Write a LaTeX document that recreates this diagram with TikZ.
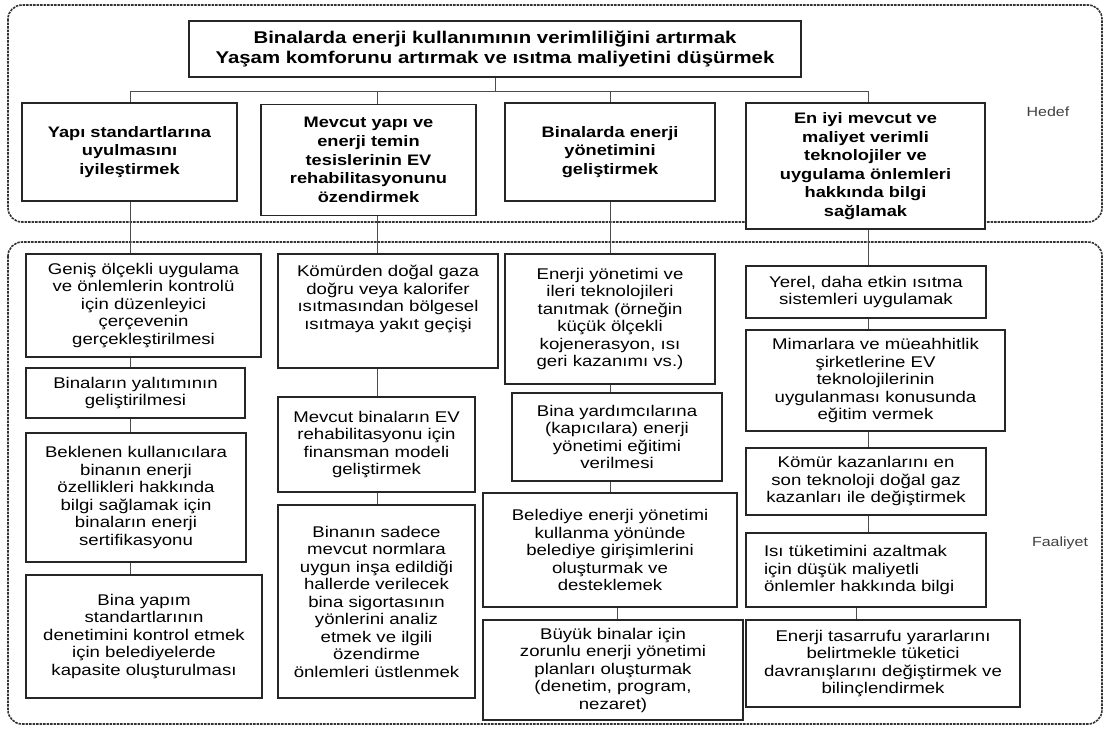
\documentclass[tikz,border=0pt]{standalone}
\usepackage{fontspec}
\setmainfont[FakeStretch=1.2]{Liberation Sans}

\begin{document}
\begin{tikzpicture}[x=1pt, y=-1pt,
        actbox/.style 2 args={draw=black!85, line width=1.3pt, fill=white, align=center,
            inner sep=1pt, minimum width=#1, minimum height=#2,
            font=\fontsize{15.5}{17.5}\selectfont},
        goalbox/.style 2 args={actbox={#1}{#2}, font=\bfseries\fontsize{15.2}{18.6}\selectfont},
        headbox/.style 2 args={actbox={#1}{#2}, font=\bfseries\fontsize{17}{20}\selectfont},
        region/.style={draw=black!80, line width=1.6pt, dash pattern=on 2.5pt off 1pt,
            rounded corners=14pt},
        conn/.style={draw=black!70, line width=1pt},
        lbl/.style={text=black!75, font=\fontsize{13.3}{15}\selectfont}]
            \useasboundingbox (0,0) rectangle (1105,729);

            \draw[region] (8,5) rectangle (1102,222);
            \draw[region] (8,242) rectangle (1102,724);

            \coordinate (b) at (0,91);
            \coordinate (c1) at (130,0);
            \coordinate (c2) at (377,0);
            \coordinate (c3) at (610,0);
            \coordinate (c3b) at (617,0);
            \coordinate (c4) at (868,0);
            \coordinate (c4b) at (856,0);

            \node[headbox={612}{56}] at (495, 49) (main)
                {Binalarda enerji kullanımının verimliliğini artırmak\\Yaşam komforunu artırmak ve ısıtma maliyetini düşürmek};

            \node[goalbox={215}{98}] at (129.5, 152) (yapi) {Yapı standartlarına\\uyulmasını\\iyileştirmek};
            \node[goalbox={215}{111}] at (368.5, 160) (rehab) {Mevcut yapı ve\\enerji temin\\tesislerinin EV\\rehabilitasyonunu\\özendirmek};
            \node[goalbox={210}{98}] at (610, 152) (ynt) {Binalarda enerji\\yönetimini\\geliştirmek};
            \node[goalbox={239}{126}] at (865.5, 166) (tekno) {En iyi mevcut ve\\maliyet verimli\\teknolojiler ve\\uygulama önlemleri\\hakkında bilgi\\sağlamak};

            \node[lbl] at (1048, 112) (hedef) {Hedef};
            \node[lbl] at (1060, 543) (faaliyet) {Faaliyet};

            \node[actbox={235}{103}] at (143.5, 305.5) (yapi1) {Geniş ölçekli uygulama\\ve önlemlerin kontrolü\\için düzenleyici\\çerçevenin\\gerçekleştirilmesi};
            \node[actbox={219}{50}] at (135.5, 393) (yapi2) {Binaların yalıtımının\\geliştirilmesi};
            \node[actbox={220}{129}] at (136, 497.5) (yapi3) {Beklenen kullanıcılara\\binanın enerji\\özellikleri hakkında\\bilgi sağlamak için\\binaların enerji\\sertifikasyonu};
            \node[actbox={236}{123}] at (144, 636.5) (yapi4) {Bina yapım\\standartlarının\\denetimini kontrol etmek\\için belediyelerde\\kapasite oluşturulması};

            \node[actbox={220}{114}] at (388, 311) (rehab1) {Kömürden doğal gaza\\doğru veya kalorifer\\ısıtmasından bölgesel\\ısıtmaya yakıt geçişi\\[10pt]\mbox{}};
            \node[actbox={197}{95}] at (376.5, 444.5) (rehab2) {Mevcut binaların EV\\rehabilitasyonu için\\finansman modeli\\geliştirmek};
            \node[actbox={197}{193}] at (376.5, 601.5) (rehab3) {Binanın sadece\\mevcut normlara\\uygun inşa edildiği\\hallerde verilecek\\bina sigortasının\\yönlerini analiz\\etmek ve ilgili\\özendirme\\önlemleri üstlenmek};

            \node[actbox={210}{130}] at (610, 319) (ynt1) {Enerji yönetimi ve\\ileri teknolojileri\\tanıtmak (örneğin\\küçük ölçekli\\kojenerasyon, ısı\\geri kazanımı vs.)};
            \node[actbox={210}{88}] at (617, 437) (ynt2) {Bina yardımcılarına\\(kapıcılara) enerji\\yönetimi eğitimi\\verilmesi};
            \node[actbox={254}{114}] at (610, 550) (ynt3) {Belediye enerji yönetimi\\kullanma yönünde\\belediye girişimlerini\\oluşturmak ve\\desteklemek};
            \node[actbox={260}{100}] at (613, 670) (ynt4) {Büyük binalar için\\zorunlu enerji yönetimi\\planları oluşturmak\\(denetim, program,\\nezaret)};

            \node[actbox={240}{52}] at (866, 292) (tekno1) {Yerel, daha etkin ısıtma\\sistemleri uygulamak};
            \node[actbox={259}{101}] at (875.5, 380.5) (tekno2) {Mimarlara ve müeahhitlik\\şirketlerine EV\\teknolojilerinin\\uygulanması konusunda\\eğitim vermek};
            \node[actbox={240}{67}] at (866, 481.5) (tekno3) {Kömür kazanlarını en\\son teknoloji doğal gaz\\kazanları ile değiştirmek};
            \node[actbox={240}{74}, align=left, text width=204, inner xsep=18pt] at (866, 570) (tekno4) {Isı tüketimini azaltmak\\için düşük maliyetli\\önlemler hakkında bilgi};
            \node[actbox={274}{87}] at (883, 663.5) (tekno5) {Enerji tasarrufu yararlarını\\belirtmekle tüketici\\davranışlarını değiştirmek ve\\bilinçlendirmek};

            \draw[conn] (main.south) -- (main.south |- b);
            \draw[conn] (b -| c1) -- (b -| c4);
            \draw[conn] (b -| c1) -- (yapi.north -| c1);
            \draw[conn] (b -| c2) -- (rehab.north -| c2);
            \draw[conn] (b -| c3) -- (ynt.north -| c3);
            \draw[conn] (b -| c4) -- (tekno.north -| c4);

            \draw[conn] (yapi.south -| c1) -- (yapi1.north -| c1);
            \draw[conn] (yapi1.south -| c1) -- (yapi2.north -| c1);
            \draw[conn] (yapi2.south -| c1) -- (yapi3.north -| c1);
            \draw[conn] (yapi3.south -| c1) -- (yapi4.north -| c1);

            \draw[conn] (rehab.south -| c2) -- (rehab1.north -| c2);
            \draw[conn] (rehab1.south -| c2) -- (rehab2.north -| c2);
            \draw[conn] (rehab2.south -| c2) -- (rehab3.north -| c2);

            \draw[conn] (ynt.south -| c3) -- (ynt1.north -| c3);
            \draw[conn] (ynt1.south -| c3) -- (ynt2.north -| c3);
            \draw[conn] (ynt2.south -| c3) -- (ynt3.north -| c3);
            \draw[conn] (ynt3.south -| c3b) -- (ynt4.north -| c3b);

            \draw[conn] (tekno.south -| c4) -- (tekno1.north -| c4);
            \draw[conn] (tekno1.south -| c4) -- (tekno2.north -| c4);
            \draw[conn] (tekno2.south -| c4) -- (tekno3.north -| c4);
            \draw[conn] (tekno3.south -| c4) -- (tekno4.north -| c4);
            \draw[conn] (tekno4.south -| c4b) -- (tekno5.north -| c4b);
        \end{tikzpicture}
\end{document}
